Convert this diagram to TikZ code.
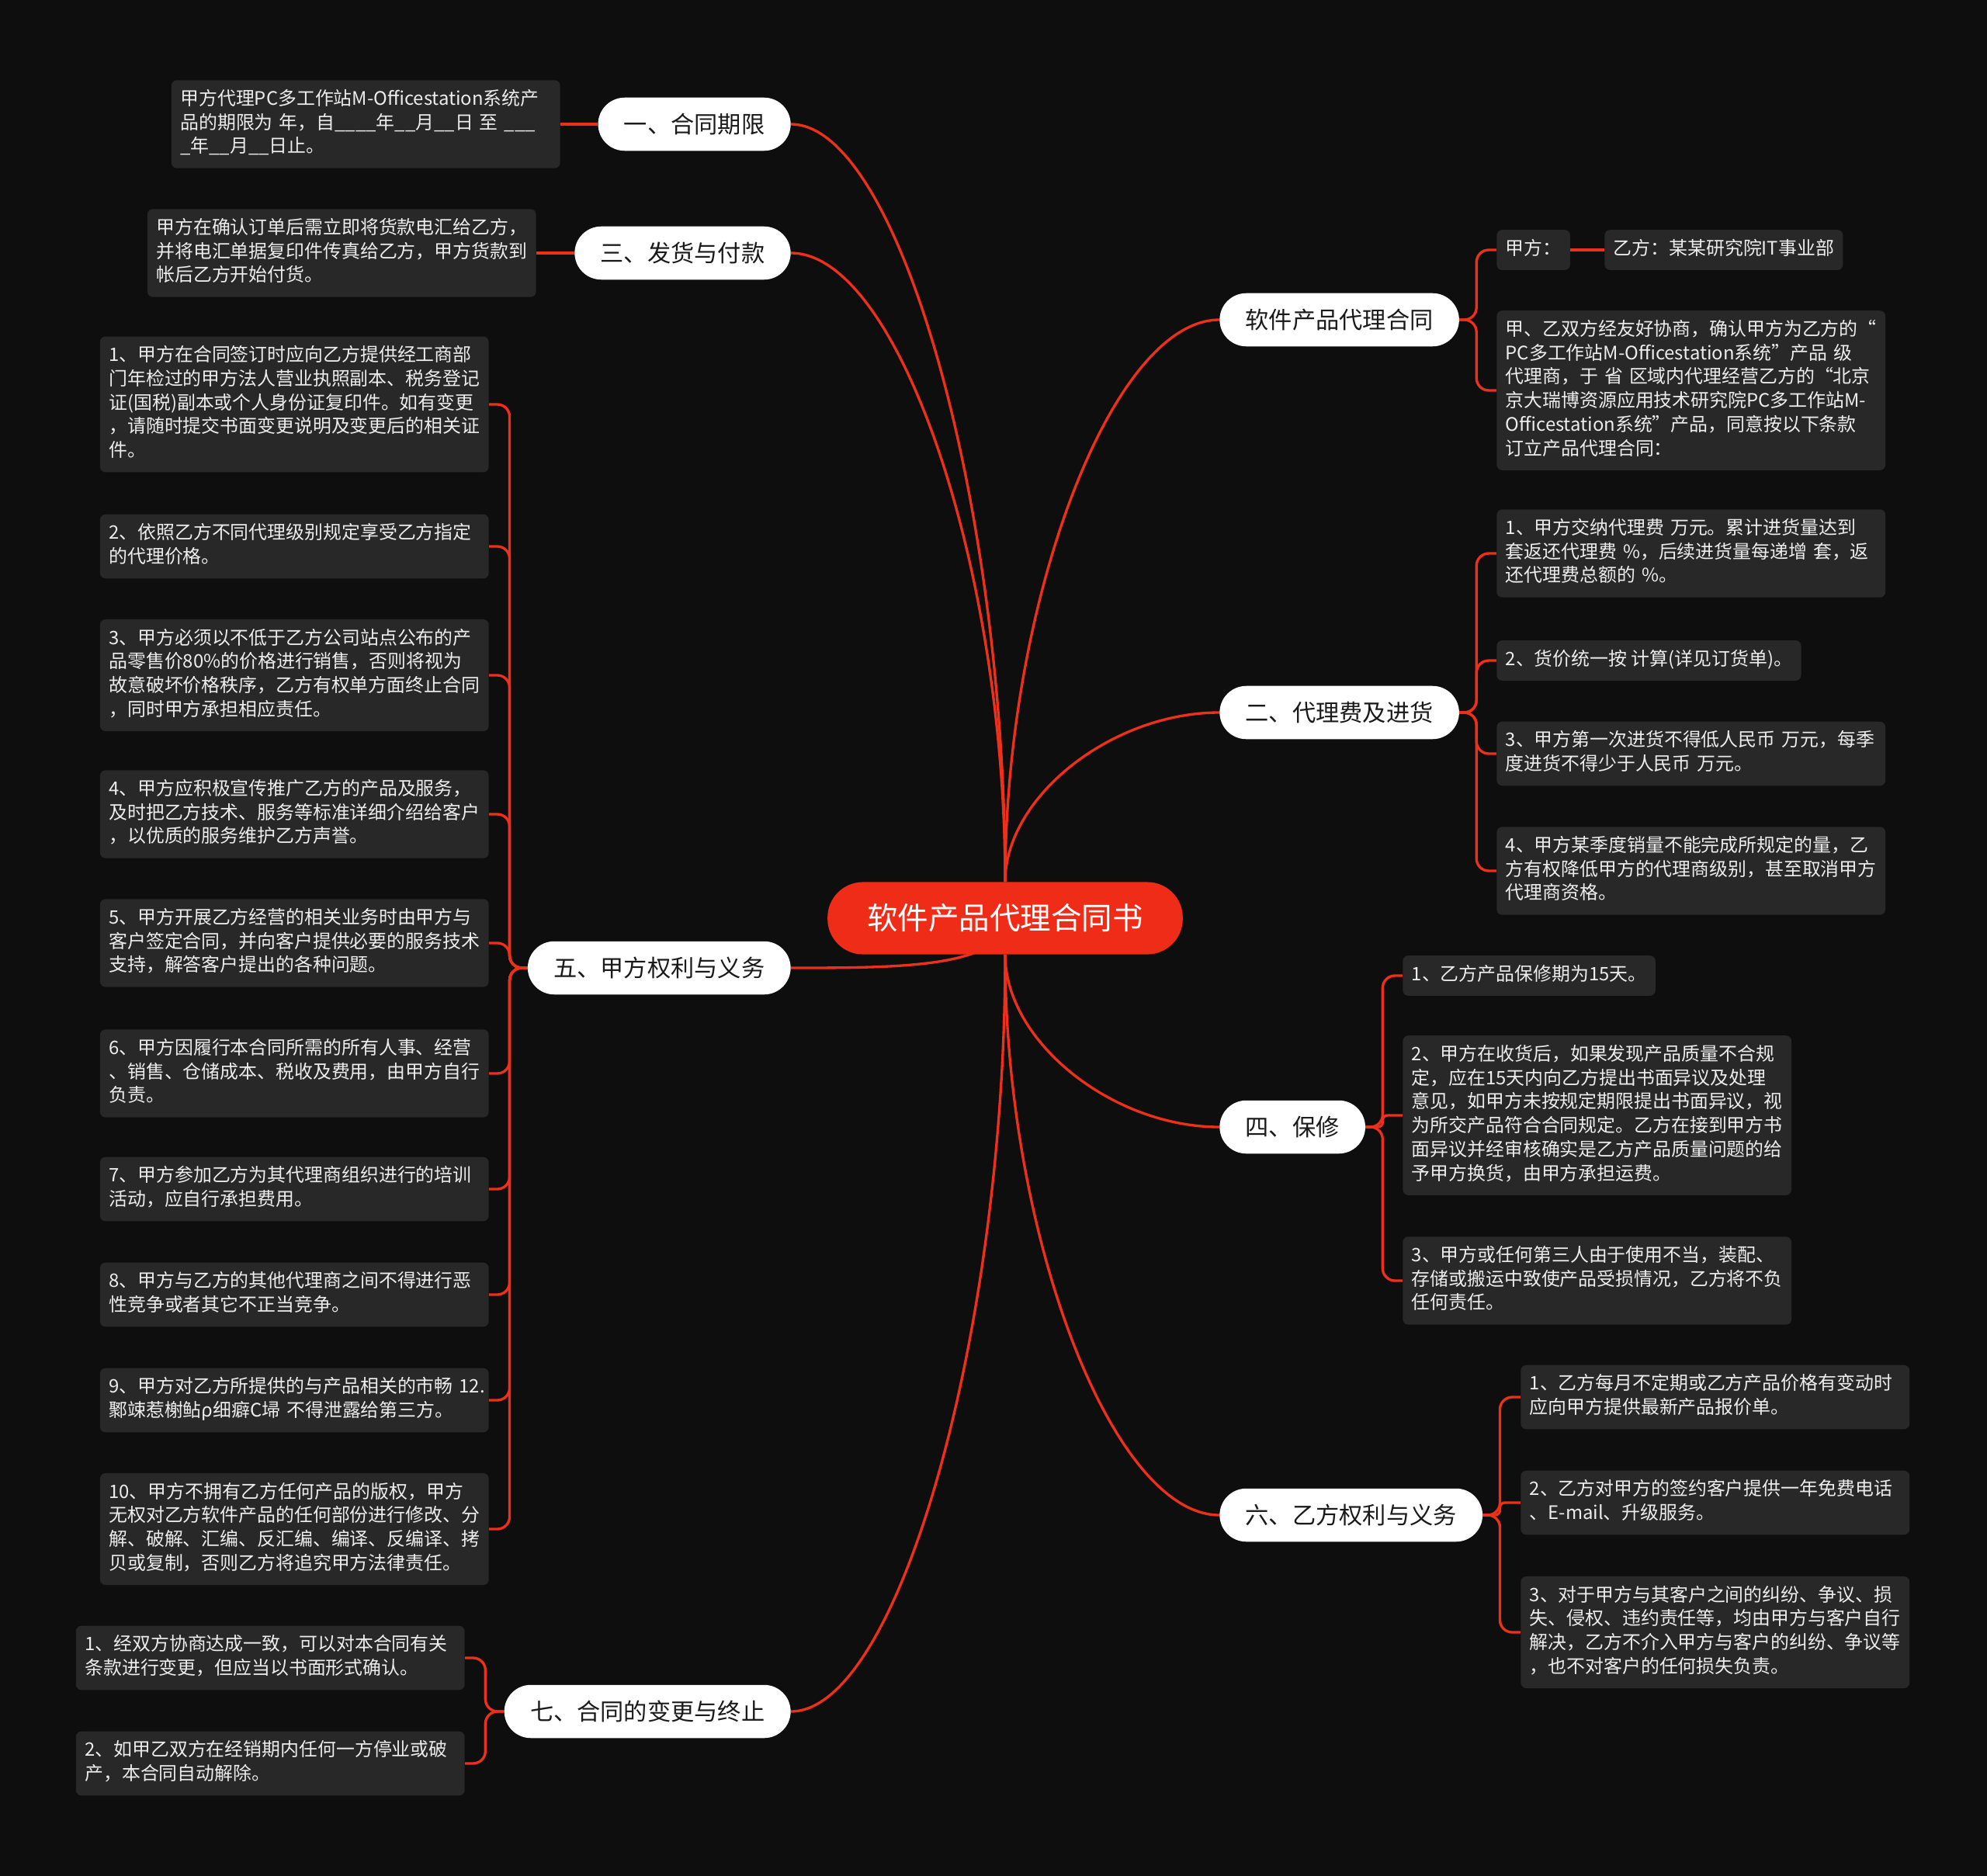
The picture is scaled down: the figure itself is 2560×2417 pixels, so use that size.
\documentclass[tikz,border=0pt]{standalone}
\usepackage{fontspec}
\setmainfont{Noto Sans CJK SC}
\definecolor{bgc}{RGB}{14,14,14}
\definecolor{boxc}{RGB}{40,40,40}
\definecolor{redc}{RGB}{236,48,28}
\definecolor{rootc}{RGB}{238,44,24}
\definecolor{inkc}{RGB}{26,26,26}
\pgfdeclarelayer{bg}
\pgfdeclarelayer{edges}
\pgfsetlayers{bg,edges,main}

\begin{document}
\begin{tikzpicture}[x=0.02cm, y=-0.02cm,
  root/.style = {fill=rootc, text=white, rounded corners=26pt, minimum height=53pt, inner xsep=29pt, font=\fontsize{22.5pt}{27pt}\selectfont},
  topic/.style = {fill=white, text=inkc, rounded corners=19.5pt, minimum height=39pt, inner xsep=19pt, font=\fontsize{17.2pt}{20pt}\selectfont},
  tag/.style = {fill=boxc, text=white!93!black, rounded corners=4pt, inner xsep=6.5pt, inner ysep=6pt, align=left, font=\fontsize{13.6pt}{17.5pt}\selectfont, execute at begin node={\strut}, execute at end node={\strut}},
  leaf/.style = {tag, text width=272pt},
  link/.style = {draw=redc, line width=1.9pt},
  fork/.style = {link, rounded corners=9pt}]
  \useasboundingbox (0,0) rectangle (2560,2417);
  \begin{pgfonlayer}{bg}
    \fill[bgc] (0,0) rectangle (2560,2417);
  \end{pgfonlayer}

  \node[root] (r) at (1295,1183) {软件产品代理合同书};
  \node[topic, anchor=east] (t1) at (1019,160) {一、合同期限};
  \node[topic, anchor=east] (t3) at (1019,326) {三、发货与付款};
  \node[topic, anchor=east] (t5) at (1019,1247) {五、甲方权利与义务};
  \node[topic, anchor=east] (t7) at (1019,2205) {七、合同的变更与终止};
  \node[topic, anchor=west] (t0) at (1571,412) {软件产品代理合同};
  \node[topic, anchor=west] (t2) at (1571,918) {二、代理费及进货};
  \node[topic, anchor=west] (t4) at (1571,1452) {四、保修};
  \node[topic, anchor=west] (t6) at (1571,1952) {六、乙方权利与义务};

  \node[leaf, anchor=east] (p1) at (722,160) {甲方代理PC多工作站M-Officestation系统产\\品的期限为~年，自\_\_\_\_年\_\_月\_\_日~至~\_\_\_\\\_年\_\_月\_\_日止。};
  \node[leaf, anchor=east] (p3) at (691,326) {甲方在确认订单后需立即将货款电汇给乙方，\\并将电汇单据复印件传真给乙方，甲方货款到\\帐后乙方开始付货。};

  \node[leaf, anchor=east] (a1) at (630,521) {1、甲方在合同签订时应向乙方提供经工商部\\门年检过的甲方法人营业执照副本、税务登记\\证(国税)副本或个人身份证复印件。如有变更\\，请随时提交书面变更说明及变更后的相关证\\件。};
  \node[leaf, anchor=east] (a2) at (630,704) {2、依照乙方不同代理级别规定享受乙方指定\\的代理价格。};
  \node[leaf, anchor=east] (a3) at (630,870) {3、甲方必须以不低于乙方公司站点公布的产\\品零售价80\%的价格进行销售，否则将视为\\故意破坏价格秩序，乙方有权单方面终止合同\\，同时甲方承担相应责任。};
  \node[leaf, anchor=east] (a4) at (630,1049) {4、甲方应积极宣传推广乙方的产品及服务，\\及时把乙方技术、服务等标准详细介绍给客户\\，以优质的服务维护乙方声誉。};
  \node[leaf, anchor=east] (a5) at (630,1215) {5、甲方开展乙方经营的相关业务时由甲方与\\客户签定合同，并向客户提供必要的服务技术\\支持，解答客户提出的各种问题。};
  \node[leaf, anchor=east] (a6) at (630,1383) {6、甲方因履行本合同所需的所有人事、经营\\、销售、仓储成本、税收及费用，由甲方自行\\负责。};
  \node[leaf, anchor=east] (a7) at (630,1532) {7、甲方参加乙方为其代理商组织进行的培训\\活动，应自行承担费用。};
  \node[leaf, anchor=east] (a8) at (630,1668) {8、甲方与乙方的其他代理商之间不得进行恶\\性竞争或者其它不正当竞争。};
  \node[leaf, anchor=east] (a9) at (630,1804) {9、甲方对乙方所提供的与产品相关的市畅~12.\\鄹竦惹榭鲇ρ细癖C埽~不得泄露给第三方。};
  \node[leaf, anchor=east] (a10) at (630,1970) {10、甲方不拥有乙方任何产品的版权，甲方\\无权对乙方软件产品的任何部份进行修改、分\\解、破解、汇编、反汇编、编译、反编译、拷\\贝或复制，否则乙方将追究甲方法律责任。};

  \node[leaf, anchor=east] (b1) at (599,2136) {1、经双方协商达成一致，可以对本合同有关\\条款进行变更，但应当以书面形式确认。};
  \node[leaf, anchor=east] (b2) at (599,2272) {2、如甲乙双方在经销期内任何一方停业或破\\产，本合同自动解除。};

  \node[tag, anchor=west] (ja) at (1928,322) {甲方：};
  \node[tag, anchor=west] (yf) at (2067,322) {乙方：某某研究院IT事业部};
  \node[leaf, anchor=west] (xy) at (1928,503) {甲、乙双方经友好协商，确认甲方为乙方的“\\PC多工作站M-Officestation系统”产品~级\\代理商，于~省~区域内代理经营乙方的“北京\\京大瑞博资源应用技术研究院PC多工作站M-\\Officestation系统”产品，同意按以下条款\\订立产品代理合同：};

  \node[leaf, anchor=west] (c1) at (1928,713) {1、甲方交纳代理费~万元。累计进货量达到\\套返还代理费~\%，后续进货量每递增~套，返\\还代理费总额的~\%。};
  \node[tag, anchor=west] (c2) at (1928,851) {2、货价统一按~计算(详见订货单)。};
  \node[leaf, anchor=west] (c3) at (1928,971) {3、甲方第一次进货不得低人民币~万元，每季\\度进货不得少于人民币~万元。};
  \node[leaf, anchor=west] (c4) at (1928,1122) {4、甲方某季度销量不能完成所规定的量，乙\\方有权降低甲方的代理商级别，甚至取消甲方\\代理商资格。};

  \node[tag, anchor=west] (d1) at (1807,1257) {1、乙方产品保修期为15天。};
  \node[leaf, anchor=west] (d2) at (1807,1437) {2、甲方在收货后，如果发现产品质量不合规\\定，应在15天内向乙方提出书面异议及处理\\意见，如甲方未按规定期限提出书面异议，视\\为所交产品符合合同规定。乙方在接到甲方书\\面异议并经审核确实是乙方产品质量问题的给\\予甲方换货，由甲方承担运费。};
  \node[leaf, anchor=west] (d3) at (1807,1650) {3、甲方或任何第三人由于使用不当，装配、\\存储或搬运中致使产品受损情况，乙方将不负\\任何责任。};

  \node[leaf, anchor=west] (e1) at (1959,1800) {1、乙方每月不定期或乙方产品价格有变动时\\应向甲方提供最新产品报价单。};
  \node[leaf, anchor=west] (e2) at (1959,1936) {2、乙方对甲方的签约客户提供一年免费电话\\、E-mail、升级服务。};
  \node[leaf, anchor=west] (e3) at (1959,2103) {3、对于甲方与其客户之间的纠纷、争议、损\\失、侵权、违约责任等，均由甲方与客户自行\\解决，乙方不介入甲方与客户的纠纷、争议等\\，也不对客户的任何损失负责。};

  \begin{pgfonlayer}{edges}
    \draw[link] (r.north) .. controls +(0,-488) and +(138,0) .. (t1.east);
    \draw[link] (r.north) .. controls +(0,-405) and +(138,0) .. (t3.east);
    \draw[link] (r.center) .. controls +(0,64) and +(138,0) .. (t5.east);
    \draw[link] (r.south) .. controls +(0,488) and +(138,0) .. (t7.east);
    \draw[link] (r.north) .. controls +(0,-362) and +(-138,0) .. (t0.west);
    \draw[link] (r.north) .. controls +(0,-110) and +(-138,0) .. (t2.west);
    \draw[link] (r.south) .. controls +(0,112) and +(-138,0) .. (t4.west);
    \draw[link] (r.south) .. controls +(0,362) and +(-138,0) .. (t6.west);

    \draw[link] (t1.west) -- (p1.east);
    \draw[link] (t3.west) -- (p3.east);

    \draw[fork] (t5.west) -- ++(-23,0) |- (a1.east);
    \draw[fork] (t5.west) -- ++(-23,0) |- (a2.east);
    \draw[fork] (t5.west) -- ++(-23,0) |- (a3.east);
    \draw[fork] (t5.west) -- ++(-23,0) |- (a4.east);
    \draw[fork] (t5.west) -- ++(-23,0) |- (a5.east);
    \draw[fork] (t5.west) -- ++(-23,0) |- (a6.east);
    \draw[fork] (t5.west) -- ++(-23,0) |- (a7.east);
    \draw[fork] (t5.west) -- ++(-23,0) |- (a8.east);
    \draw[fork] (t5.west) -- ++(-23,0) |- (a9.east);
    \draw[fork] (t5.west) -- ++(-23,0) |- (a10.east);

    \draw[fork] (t7.west) -- ++(-24,0) |- (b1.east);
    \draw[fork] (t7.west) -- ++(-24,0) |- (b2.east);

    \draw[fork] (t0.east) -- ++(22,0) |- (ja.west);
    \draw[fork] (t0.east) -- ++(22,0) |- (xy.west);
    \draw[link] (ja.east) -- (yf.west);

    \draw[fork] (t2.east) -- ++(22,0) |- (c1.west);
    \draw[fork] (t2.east) -- ++(22,0) |- (c2.west);
    \draw[fork] (t2.east) -- ++(22,0) |- (c3.west);
    \draw[fork] (t2.east) -- ++(22,0) |- (c4.west);

    \draw[fork] (t4.east) -- ++(22,0) |- (d1.west);
    \draw[fork, rounded corners=3.5pt] (t4.east) -- ++(22,0) |- (d2.west);
    \draw[fork] (t4.east) -- ++(22,0) |- (d3.west);

    \draw[fork] (t6.east) -- ++(22,0) |- (e1.west);
    \draw[fork, rounded corners=3.5pt] (t6.east) -- ++(22,0) |- (e2.west);
    \draw[fork] (t6.east) -- ++(22,0) |- (e3.west);
  \end{pgfonlayer}
\end{tikzpicture}
\end{document}
